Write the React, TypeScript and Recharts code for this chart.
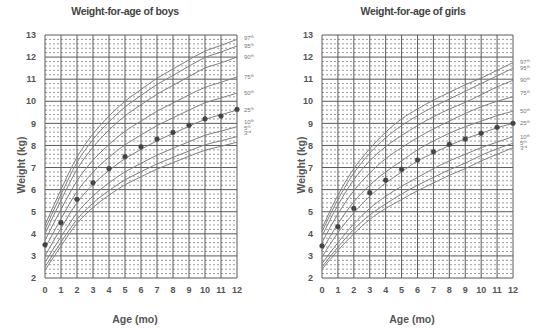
import React from 'react';
import { LineChart, Line, XAxis, YAxis, CartesianGrid } from 'recharts';

// months 0..12
const months = [0, 1, 2, 3, 4, 5, 6, 7, 8, 9, 10, 11, 12];
const pctNames = ['3rd', '5th', '10th', '25th', '50th', '75th', '90th', '95th', '97th'];

// boys percentile curves (kg)
const boysP3 = [2.35, 3.45, 4.47, 5.19, 5.75, 6.22, 6.58, 6.93, 7.22, 7.51, 7.78, 7.96, 8.15];
const boysP5 = [2.5, 3.62, 4.65, 5.39, 5.96, 6.44, 6.81, 7.16, 7.46, 7.75, 8.03, 8.21, 8.4];
const boysP10 = [2.7, 3.87, 4.94, 5.71, 6.31, 6.8, 7.19, 7.56, 7.87, 8.17, 8.46, 8.65, 8.85];
const boysP25 = [3.0, 4.25, 5.41, 6.23, 6.87, 7.4, 7.82, 8.21, 8.54, 8.87, 9.18, 9.39, 9.6];
const boysP50 = [3.35, 4.68, 5.91, 6.79, 7.47, 8.03, 8.47, 8.9, 9.25, 9.6, 9.93, 10.15, 10.37];
const boysP75 = [3.7, 5.11, 6.4, 7.33, 8.04, 8.64, 9.1, 9.55, 9.92, 10.29, 10.63, 10.86, 11.1];
const boysP90 = [4.0, 5.52, 6.92, 7.92, 8.7, 9.34, 9.84, 10.32, 10.72, 11.12, 11.5, 11.74, 12.0];
const boysP95 = [4.2, 5.78, 7.23, 8.27, 9.07, 9.74, 10.26, 10.76, 11.17, 11.59, 11.98, 12.23, 12.5];
const boysP97 = [4.4, 6.0, 7.47, 8.52, 9.33, 10.0, 10.53, 11.04, 11.46, 11.88, 12.27, 12.53, 12.8];
const boysWeight = [3.5, 4.5, 5.56, 6.31, 6.95, 7.49, 7.94, 8.29, 8.59, 8.91, 9.2, 9.33, 9.63];

// girls percentile curves (kg)
const girlsP3 = [2.4, 3.25, 4.0, 4.65, 5.15, 5.55, 5.95, 6.3, 6.65, 6.95, 7.3, 7.6, 7.9];
const girlsP5 = [2.5, 3.4, 4.2, 4.85, 5.35, 5.8, 6.2, 6.55, 6.9, 7.2, 7.55, 7.85, 8.1];
const girlsP10 = [2.65, 3.6, 4.45, 5.15, 5.7, 6.15, 6.55, 6.95, 7.3, 7.6, 7.9, 8.15, 8.4];
const girlsP25 = [2.95, 4.05, 4.95, 5.7, 6.3, 6.8, 7.3, 7.65, 8.0, 8.3, 8.55, 8.8, 9.0];
const girlsP50 = [3.25, 4.45, 5.45, 6.2, 6.8, 7.3, 7.8, 8.2, 8.55, 8.85, 9.1, 9.35, 9.55];
const girlsP75 = [3.6, 4.9, 5.95, 6.75, 7.4, 7.9, 8.35, 8.75, 9.1, 9.45, 9.75, 10.0, 10.2];
const girlsP90 = [3.9, 5.3, 6.45, 7.3, 7.95, 8.45, 8.9, 9.3, 9.65, 9.95, 10.3, 10.65, 10.95];
const girlsP95 = [4.1, 5.55, 6.75, 7.65, 8.35, 8.9, 9.35, 9.75, 10.1, 10.45, 10.8, 11.15, 11.5];
const girlsP97 = [4.25, 5.75, 6.95, 7.85, 8.6, 9.2, 9.65, 10.05, 10.4, 10.75, 11.05, 11.4, 11.75];
const girlsWeight = [3.45, 4.32, 5.15, 5.86, 6.43, 6.92, 7.34, 7.71, 8.05, 8.29, 8.55, 8.82, 9.0];

const yTicks = [2, 3, 4, 5, 6, 7, 8, 9, 10, 11, 12, 13];
const minorY: number[] = [];
for (let k = 2; k < 13; k++) for (let j = 1; j < 5; j++) minorY.push(+(k + j * 0.2).toFixed(1));

const FONT = '"Liberation Sans", Arial, sans-serif';
const TEXT = '#555';

function buildRows(curves: number[][], weight: number[]) {
  return months.map((m, i) => {
    const row: Record<string, number> = { age: m, w: weight[i] };
    curves.forEach((c, k) => { row['p' + k] = c[i]; });
    return row;
  });
}

const boysRows = buildRows([boysP3, boysP5, boysP10, boysP25, boysP50, boysP75, boysP90, boysP95, boysP97], boysWeight);
const girlsRows = buildRows([girlsP3, girlsP5, girlsP10, girlsP25, girlsP50, girlsP75, girlsP90, girlsP95, girlsP97], girlsWeight);

// label nudges so the tiny percentile tags do not collide
const boysLabelDy = [-9, -8.5, -5, 0, 0, 0, 0, 0, -1];
const girlsLabelDy = [0, 0, 0, 0, 0, -4, 0, 0, -1];

function pctLabel(name: string, dy: number) {
  // eslint-disable-next-line @typescript-eslint/no-explicit-any
  return (p: any) => {
    if (p.index !== months.length - 1) return null;
    const num = name.replace(/\D/g, '');
    const suf = name.replace(/\d/g, '');
    return (
      <text key={name} x={p.x + 7} y={p.y + dy + 2} fontSize={6} fill="#777" fontFamily={FONT}>
        <tspan>{num}</tspan>
        <tspan fontSize={4} dy={-2}>{suf}</tspan>
      </text>
    );
  };
}

function GrowthChart({ rows, labelDy, marginLeft, marginRight }: {
  rows: Record<string, number>[]; labelDy: number[]; marginLeft: number; marginRight: number;
}) {
  return (
    <LineChart width={268} height={328} data={rows}
      margin={{ top: 35, right: marginRight, bottom: 20, left: marginLeft }}>
      <CartesianGrid horizontalValues={minorY} vertical={false} stroke="#9a9a9a" strokeDasharray="2 2" />
      <CartesianGrid stroke="#5a5a5a" strokeWidth={1} />
      <XAxis dataKey="age" type="number" domain={[0, 12]} ticks={months} interval={0}
        tickLine={false} axisLine={false} height={30} tickMargin={3}
        tick={{ fontSize: 9, fill: TEXT, fontWeight: 'bold', fontFamily: FONT }} />
      <YAxis type="number" domain={[2, 13]} ticks={yTicks} interval={0} width={25}
        tickLine={false} axisLine={false} tickMargin={3}
        tick={{ fontSize: 9, fill: TEXT, fontWeight: 'bold', fontFamily: FONT }} />
      {pctNames.map((n, k) => (
        <Line key={n} type="monotone" dataKey={'p' + k} stroke="#808080" strokeWidth={1}
          dot={false} isAnimationActive={false} label={pctLabel(n, labelDy[k])} />
      ))}
      <Line dataKey="w" stroke="none" isAnimationActive={false}
        dot={{ r: 2.4, fill: '#444', stroke: '#444', strokeWidth: 0.5 }} />
    </LineChart>
  );
}

const titleStyle: React.CSSProperties = {
  position: 'absolute', top: 4, width: 200, textAlign: 'center', fontFamily: FONT,
  fontWeight: 'bold', fontSize: 10.5, letterSpacing: -0.3, color: '#444', lineHeight: '14px',
};
const axisTitle: React.CSSProperties = {
  position: 'absolute', width: 100, height: 14, textAlign: 'center', fontFamily: FONT,
  fontWeight: 'bold', fontSize: 10.5, color: TEXT, lineHeight: '14px',
};

export default function App() {
  return (
    <div style={{ position: 'absolute', left: 0, top: 0, width: 536, height: 328, background: '#fff', overflow: 'hidden' }}>
      <div style={{ position: 'absolute', left: 0, top: 0 }}>
        <GrowthChart rows={boysRows} labelDy={boysLabelDy} marginLeft={20} marginRight={31} />
      </div>
      <div style={{ position: 'absolute', left: 268, top: 0 }}>
        <GrowthChart rows={girlsRows} labelDy={girlsLabelDy} marginLeft={29} marginRight={23} />
      </div>
      <div style={{ ...titleStyle, left: 125 - 100 }}>Weight-for-age of boys</div>
      <div style={{ ...titleStyle, left: 413 - 100 }}>Weight-for-age of girls</div>
      <div style={{ ...axisTitle, left: 21 - 50, top: 165 - 7, transform: 'rotate(-90deg)' }}>Weight (kg)</div>
      <div style={{ ...axisTitle, left: 301 - 50, top: 165 - 7, transform: 'rotate(-90deg)' }}>Weight (kg)</div>
      <div style={{ ...axisTitle, left: 135 - 50, top: 319 - 7 }}>Age (mo)</div>
      <div style={{ ...axisTitle, left: 412 - 50, top: 319 - 7 }}>Age (mo)</div>
    </div>
  );
}
